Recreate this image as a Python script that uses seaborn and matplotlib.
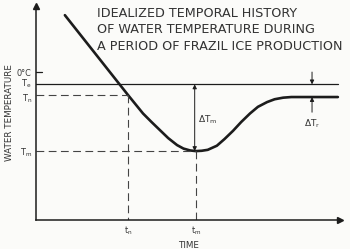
import numpy as np
import pandas as pd
import matplotlib
matplotlib.use("Agg")
import matplotlib.pyplot as plt
import matplotlib.transforms as mtransforms
import seaborn as sns

# time (arbitrary units) and water temperature (deg C)
time = [9.5, 30.3, 33.0, 35.2, 38.0, 40.8, 43.5, 46.4, 48.5, 50.7,
        52.6, 54.5, 56.5, 59.5, 62.0, 64.8, 67.5, 70.4, 73.0, 76.0, 78.5,
        81.3, 84.0, 86.8, 99.3]
temp = [0.180, -0.073, -0.105, -0.131, -0.158, -0.184, -0.209,
        -0.231, -0.242, -0.248, -0.250, -0.249, -0.246, -0.233, -0.212, -0.186,
        -0.158, -0.131, -0.110, -0.095, -0.086, -0.081, -0.079, -0.079, -0.079]

T_zero = 0.0
T_e = -0.039
T_n = -0.073
T_m = -0.250
T_r = -0.079
t_n = 30.3
t_m = 52.6
t_end = 99.3

title_lines = ["IDEALIZED TEMPORAL HISTORY",
               "OF WATER TEMPERATURE DURING",
               "A PERIOD OF FRAZIL ICE PRODUCTION"]
ytick_labels = ["0°C", r"T$_\mathregular{e}$", r"T$_\mathregular{n}$", r"T$_\mathregular{m}$"]
xtick_labels = [r"t$_\mathregular{n}$", r"t$_\mathregular{m}$"]

ink = "#1c1c1c"
txt = "#333333"

sns.set_style("white")
plt.rcParams["font.family"] = ["DejaVu Sans"]

fig = plt.figure(figsize=(3.5, 2.49), dpi=100)
fig.patch.set_facecolor("#fbfbf9")
ax = fig.add_axes([36 / 350, 29 / 249, 304 / 350, 214 / 249])
ax.set_facecolor("#fbfbf9")
ax.set_xlim(0, 100)
ax.set_ylim(-0.468, 0.209)

df = pd.DataFrame({"time": time, "temp": temp})
sns.lineplot(data=df, x="time", y="temp", ax=ax, color=ink, lw=1.9,
             sort=False, estimator=None)

# reference lines
ax.plot([0, t_end], [T_e, T_e], color=ink, lw=0.9)
dash = (0, (7, 4))
ax.plot([0, t_n], [T_n, T_n], color="#444", lw=0.8, ls=dash)
ax.plot([t_n, t_n], [T_n, -0.468], color="#444", lw=0.8, ls=dash)
ax.plot([0, t_m], [T_m, T_m], color="#444", lw=0.8, ls=dash)
ax.plot([t_m, t_m], [T_m, -0.468], color="#444", lw=0.8, ls=dash)
ax.plot([0, 2], [T_zero, T_zero], color=ink, lw=0.9)

# delta T arrows
ax.annotate("", xy=(t_m - 0.4, T_m), xytext=(t_m - 0.4, T_e),
            arrowprops=dict(arrowstyle="<|-|>", color=ink, lw=0.7,
                            mutation_scale=6, shrinkA=0, shrinkB=0))
ax.text(t_m + 0.6, -0.150, r"$\Delta$T$_\mathregular{m}$", fontsize=6.5,
        color=txt, ha="left", va="center")
ax.annotate("", xy=(90.8, T_e), xytext=(90.8, 0.0),
            arrowprops=dict(arrowstyle="-|>", color=ink, lw=0.7,
                            mutation_scale=6, shrinkA=0, shrinkB=0))
ax.annotate("", xy=(90.8, T_r), xytext=(90.8, -0.127),
            arrowprops=dict(arrowstyle="-|>", color=ink, lw=0.7,
                            mutation_scale=6, shrinkA=0, shrinkB=0))
ax.text(90.8, -0.162, r"$\Delta$T$_\mathregular{r}$", fontsize=6.5,
        color=txt, ha="center", va="center")

# axes with arrow heads
sns.despine(ax=ax, top=True, right=True)
for s in ["left", "bottom"]:
    ax.spines[s].set_color(ink)
    ax.spines[s].set_linewidth(1.1)
ax.plot(1, 0, ">", color=ink, ms=4, transform=ax.transAxes, clip_on=False)
ax.plot(0, 1, "^", color=ink, ms=4, transform=ax.transAxes, clip_on=False)

ax.set_yticks([T_zero, T_e, T_n, T_m], ytick_labels)
ax.set_xticks([t_n, t_m], xtick_labels)
ax.tick_params(length=0, pad=3, labelsize=5.9, labelcolor=txt)
# nudge the two close labels apart
ylabs = ax.get_yticklabels()
for lab, dy in [(ylabs[1], 1.6), (ylabs[2], -1.6)]:
    lab.set_transform(lab.get_transform() +
                      mtransforms.ScaledTranslation(0, dy / 72, fig.dpi_scale_trans))
ax.set_xlabel("TIME", fontsize=6.3, color=txt, labelpad=3)
ax.set_ylabel("WATER TEMPERATURE", fontsize=6.3, color=txt, labelpad=2)

for i, line in enumerate(title_lines):
    fig.text(97 / 350, 1 - (13.5 + 16.3 * i) / 249, line, fontsize=9.2,
             color=txt, ha="left", va="center")

fig.savefig("out.png", dpi=100, facecolor=fig.get_facecolor())
